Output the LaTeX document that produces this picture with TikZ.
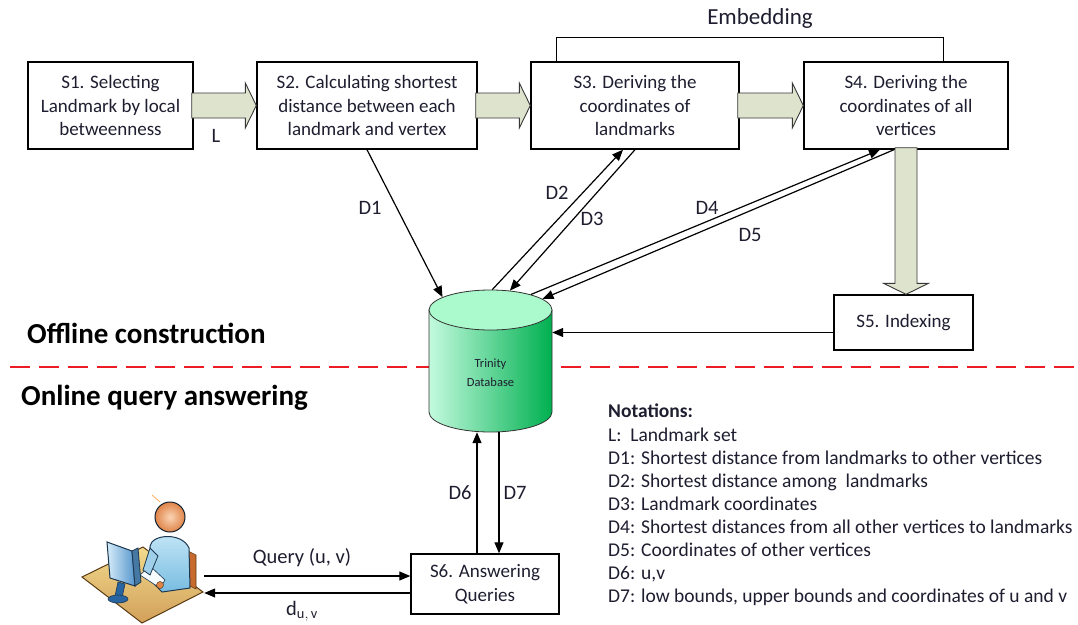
\documentclass[tikz,border=0pt]{standalone}
\usepackage{fontspec}
\setmainfont{Carlito}
\usetikzlibrary{arrows.meta,calc,shapes.geometric}

\definecolor{ink}{RGB}{30,30,48}
\definecolor{blockfill}{RGB}{222,227,206}
\definecolor{blockline}{RGB}{55,55,55}
\definecolor{dbcap}{RGB}{170,250,205}
\definecolor{dblight}{RGB}{195,250,222}
\definecolor{dbdark}{RGB}{0,176,80}
\definecolor{sepred}{RGB}{236,28,36}
\definecolor{deskA}{RGB}{242,218,140}
\definecolor{deskB}{RGB}{210,160,90}
\definecolor{deskedge}{RGB}{90,60,20}
\definecolor{shirtA}{RGB}{196,230,247}
\definecolor{shirtB}{RGB}{120,188,224}
\definecolor{iconedge}{RGB}{28,55,80}
\definecolor{skinA}{RGB}{250,212,180}
\definecolor{skinB}{RGB}{224,132,72}
\definecolor{chair}{RGB}{200,105,45}
\definecolor{screenA}{RGB}{214,236,250}
\definecolor{screenB}{RGB}{86,150,204}
\definecolor{standc}{RGB}{40,100,160}

\tikzset{
  stepbox/.style={draw=black, line width=1.4pt, fill=white, text=ink, align=center,
    font=\fontsize{19}{23.5}\selectfont, inner sep=0pt},
  conn/.style={line width=1.2pt, draw=black, -{Triangle[length=11pt,width=9pt]}},
  lbl/.style={text=ink, font=\fontsize{20.5}{23}\selectfont, inner sep=0pt},
  heading/.style={text=black, font=\fontsize{29}{32}\bfseries\selectfont, inner sep=0pt, anchor=west},
  fat/.style={fill=blockfill, draw=blockline, line width=0.9pt, line join=miter},
  dbline/.style={draw=black!80, line width=0.8pt},
}

% horizontal block arrow from the east side of #1 to the west side of #2
\newcommand\fatright[2]{%
  \draw[fat] let \p1=(#1.east), \p2=(#2.west) in
    (\x1-2pt,\y1+12.5pt) -- (\x2-11pt,\y1+12.5pt) -- (\x2-11pt,\y1+22.5pt) -- (\x2,\y1)
    -- (\x2-11pt,\y1-22.5pt) -- (\x2-11pt,\y1-12.5pt) -- (\x1-2pt,\y1-12.5pt) -- cycle;}
% vertical block arrow from the south side of #1 to the north side of #2
\newcommand\fatdown[2]{%
  \draw[fat] let \p1=(#1.south), \p2=(#2.north) in
    (\x1-11pt,\y1+2pt) -- (\x1-11pt,\y2+11pt) -- (\x1-22.5pt,\y2+11pt) -- (\x1,\y2)
    -- (\x1+22.5pt,\y2+11pt) -- (\x1+11pt,\y2+11pt) -- (\x1+11pt,\y1+2pt) -- cycle;}

\begin{document}
\begin{tikzpicture}[x=1pt,y=1pt]
\useasboundingbox (0,0) rectangle (1078,-624);
\fill[white] (0,0) rectangle (1078,-624);

% separator between the two phases
\draw[sepred, line width=2pt, dash pattern=on 20pt off 9pt] (10,-367) -- (1078,-367);

% offline pipeline
\node[stepbox, minimum width=165pt, minimum height=87pt] (s1) at (110.5,-105.5)
  {S1. Selecting\\Landmark by local\\betweenness};
\node[stepbox, minimum width=220pt, minimum height=87pt] (s2) at (367,-105.5)
  {S2. Calculating shortest\\distance between each\\landmark and vertex};
\node[stepbox, minimum width=208pt, minimum height=87pt] (s3) at (635,-105.5)
  {S3. Deriving the\\coordinates of\\landmarks};
\node[stepbox, minimum width=204pt, minimum height=87pt] (s4) at (906,-105.5)
  {S4. Deriving the\\coordinates of all\\vertices};
\node[stepbox, minimum width=139pt, minimum height=55pt] (s5) at (903.5,-322.5)
  {S5. Indexing};
\node[stepbox, minimum width=148pt, minimum height=60pt] (s6) at (485,-584)
  {S6. Answering\\Queries};

\fatright{s1}{s2}
\fatright{s2}{s3}
\fatright{s3}{s4}
\fatdown{s4}{s5}

% embedding bracket over S3 and S4
\draw[line width=1.4pt] ([xshift=26pt]s3.north west) -- ++(0,24)
  -| ([xshift=-65pt]s4.north east) coordinate (embR);
\node[lbl, font=\fontsize{23}{26}\selectfont] (emb) at (760,-18) {Embedding};

% Trinity database cylinder
\shade[left color=dblight, right color=dbdark, dbline]
  (429,-310) -- (429,-412) arc[start angle=180, end angle=360, x radius=61.5, y radius=20]
  -- (552,-310) -- cycle;
\node[ellipse, dbline, fill=dbcap, minimum width=123pt, minimum height=40pt, inner sep=0pt]
  (dbtop) at (490.5,-310) {};
\node[ellipse, minimum width=123pt, minimum height=40pt, inner sep=0pt] (dbbot) at (490.5,-412) {};
\node[text=ink, font=\fontsize{12.5}{19}\selectfont, align=center, minimum width=123pt,
  minimum height=102pt, inner sep=0pt] (dbbody) at (490.5,-373) {Trinity\\Database};

% data flows between steps and the database
\draw[conn] (s2.south) -- (dbtop.165);
\draw[conn] (dbtop.85) -- ([xshift=-12pt]s3.south);
\draw[conn] (s3.south) -- (dbtop.45);
\draw[conn] (dbtop.21) -- ([xshift=-26pt]s4.south);
\draw[conn] ([xshift=-12pt]s4.south) -- (dbtop.12);
\draw[conn] ([yshift=-10pt]s5.west) -- ([yshift=-10pt]s5.west -| dbbody.east);
\draw[conn] ([xshift=-8pt]s6.north) -- ([xshift=-8pt]s6.north |- dbbot.south);
\draw[conn] ([xshift=14pt]s6.north |- dbbot.south) -- ([xshift=14pt]s6.north);

\node[lbl] (lL) at (216,-136) {L};
\node[lbl] (lD1) at (370,-208) {D1};
\node[lbl] (lD2) at (557,-193) {D2};
\node[lbl] (lD3) at (592,-219) {D3};
\node[lbl] (lD4) at (707,-208) {D4};
\node[lbl] (lD5) at (750,-235) {D5};
\node[lbl] (lD6) at (460,-493) {D6};
\node[lbl] (lD7) at (515,-493) {D7};

% user at a workstation
\node[minimum width=130pt, minimum height=124pt, inner sep=0pt] (user) at (139,-560) {};
\draw[orange!80, line width=0.6pt] (152,-495) -- (160,-502);
\shade[top color=deskA, bottom color=deskB, draw=deskedge, line width=1pt]
  (82,-577) -- (143,-547) -- (203,-592) -- (142,-623) -- cycle;
\fill[chair, draw=deskedge, line width=0.6pt] (188,-551) -- (196,-555) -- (196,-589) -- (188,-585) -- cycle;
\shade[top color=shirtA, bottom color=shirtB, draw=iconedge, line width=1pt]
  (150,-546) .. controls (152,-534) and (182,-532) .. (189,-548) -- (190,-588)
  -- (162,-592) -- (150,-580) -- cycle;
\fill[white!85!shirtA, draw=iconedge, line width=0.6pt]
  (140,-575) -- (150,-566) -- (165,-580) -- (160,-588) -- cycle;
\fill[shirtB!70!white, draw=iconedge, line width=0.8pt]
  (150,-548) -- (143,-570) -- (150,-575) -- (158,-556) -- cycle;
\fill[skinB, draw=deskedge, line width=0.5pt] (160,-585) circle (3.5);
\shade[inner color=skinA, outer color=skinB, draw=iconedge!60!black, line width=1pt] (170,-517) circle (15);
\shade[left color=screenA, right color=screenB, draw=iconedge, line width=1pt]
  (107,-542) -- (132,-551) -- (135,-586) -- (110,-578) -- cycle;
\fill[screenB!80!black, draw=iconedge, line width=0.8pt]
  (132,-551) -- (138,-548) -- (141,-582) -- (135,-586) -- cycle;
\fill[standc, draw=iconedge, line width=0.6pt] (118,-582) -- (125,-584) -- (122,-598) -- (115,-596) -- cycle;
\fill[standc, draw=iconedge, line width=0.6pt] (118,-599) ellipse [x radius=10, y radius=4];

% query exchange
\draw[conn] ([yshift=8pt]s6.west -| user.east) -- ([yshift=8pt]s6.west);
\draw[conn] ([yshift=-9pt]s6.west) -- ([yshift=-9pt]s6.west -| user.east);
\node[lbl] (lq) at (302,-558) {Query (u, v)};
\node[lbl] (ld) at (302,-611) {d$_{\mathrm{u,\,v}}$};

% phase headings
\node[heading] (off) at (27,-333) {Offline construction};
\node[heading] (on) at (21,-398) {Online query answering};

% legend
\node[anchor=north west, align=left, inner sep=0pt, text=ink,
  font=\fontsize{19.5}{23.1}\selectfont] (notes) at (608,-404)
  {\textbf{Notations:}\\
   L:\ \ Landmark set\\
   D1: Shortest distance from landmarks to other vertices\\
   D2: Shortest distance among\ \ landmarks\\
   D3: Landmark coordinates\\
   D4: Shortest distances from all other vertices to landmarks\\
   D5: Coordinates of other vertices\\
   D6: u,v\\
   D7: low bounds, upper bounds and coordinates of u and v};
\end{tikzpicture}
\end{document}
